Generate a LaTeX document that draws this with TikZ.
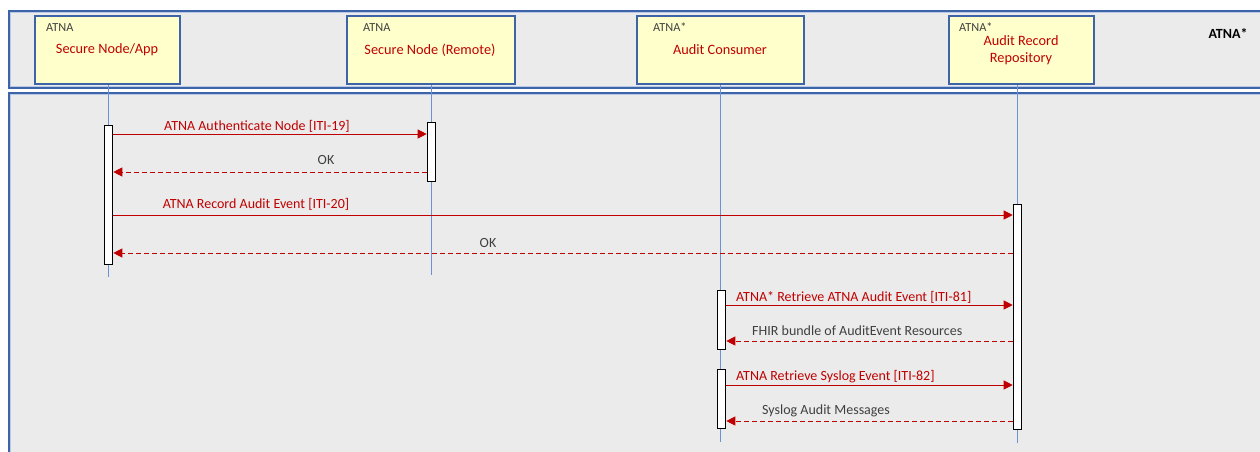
\documentclass[tikz,border=0pt]{standalone}
\usepackage{fontspec}
\setmainfont{Carlito}
\usetikzlibrary{arrows.meta}
\definecolor{frameblue}{HTML}{3E64A8}
\definecolor{framein}{HTML}{B8C8E6}
\definecolor{bgrey}{HTML}{EBEBEB}
\definecolor{boxyellow}{HTML}{FFFFCC}
\definecolor{lifeblue}{HTML}{6A92D4}
\definecolor{msgred}{HTML}{C00000}
\definecolor{txtgrey}{HTML}{404040}
\tikzset{
  frame/.style={draw=frameblue, line width=2pt, fill=bgrey},
  frameinner/.style={draw=framein, line width=0.8pt},
  actor/.style={draw=frameblue, line width=1.8pt, fill=boxyellow},
  lifeline/.style={draw=lifeblue, line width=0.7pt},
  actbar/.style={draw=black, line width=1.6pt, fill=white},
  msg/.style={draw=msgred, line width=0.8pt, -{Triangle[length=9pt,width=9pt]}},
  reply/.style={msg, dashed, dash pattern=on 5pt off 3pt},
  msglabel/.style={text=msgred, font=\fontsize{14}{16}\selectfont, inner sep=0pt},
  replylabel/.style={text=txtgrey, font=\fontsize{14}{16}\selectfont, inner sep=0pt},
  smalllabel/.style={text=txtgrey, font=\fontsize{12.3}{14}\selectfont, inner sep=0pt, anchor=north west},
  actortext/.style={text=msgred, font=\fontsize{14.3}{17}\selectfont, inner sep=0pt, align=center}
}
\begin{document}
\begin{tikzpicture}[x=1pt,y=-1pt]
\useasboundingbox (0,0) rectangle (1260,452);
\fill[white] (0,0) rectangle (1260,452);
% frames
\path[frame] (9,11) rectangle (1275,88);
\path[frameinner] (10.8,12.8) rectangle (1275,86.2);
\path[frame] (9,93) rectangle (1275,470);
\path[frameinner] (10.8,94.8) rectangle (1275,470);
% lifelines (behind)
\coordinate (l1top) at (108,84); \coordinate (l1bot) at (108,277);
\coordinate (l2top) at (431,84); \coordinate (l2bot) at (431,275);
\coordinate (l3top) at (720,84); \coordinate (l3bot) at (720,442);
\coordinate (l4top) at (1017,84); \coordinate (l4bot) at (1017,443);
\draw[lifeline] (l1top) -- (l1bot);
\draw[lifeline] (l2top) -- (l2bot);
\draw[lifeline] (l3top) -- (l3bot);
\draw[lifeline] (l4top) -- (l4bot);
% actor boxes
\path[actor] (35,16) rectangle (180,84);
\path[actor] (347,16) rectangle (515,84);
\path[actor] (637,16) rectangle (804,84);
\path[actor] (949,16) rectangle (1094,84);
\node[smalllabel] (s1) at (46,23) {ATNA};
\node[smalllabel] (s2) at (363,23) {ATNA};
\node[smalllabel] (s3) at (653,23) {ATNA*};
\node[smalllabel] (s4) at (959,23) {ATNA*};
\node[actortext] (a1) at (107,50) {Secure Node/App};
\node[actortext] (a2) at (430,50) {Secure Node (Remote)};
\node[actortext] (a3) at (720,50) {Audit Consumer};
\node[actortext] (a4) at (1021,50) {Audit Record\\Repository};
\node[font=\bfseries\fontsize{14}{16}\selectfont, inner sep=0pt] (atna) at (1228,33) {ATNA*};
% activation bars
\node[actbar, minimum width=8pt, minimum height=139pt, inner sep=0pt] (b1) at (108.5,195) {};
\node[actbar, minimum width=8pt, minimum height=59pt, inner sep=0pt] (b2) at (431.5,152) {};
\node[actbar, minimum width=8pt, minimum height=225pt, inner sep=0pt] (b4) at (1017.5,317) {};
\node[actbar, minimum width=8pt, minimum height=59pt, inner sep=0pt] (b3a) at (721.5,320) {};
\node[actbar, minimum width=8pt, minimum height=59pt, inner sep=0pt] (b3b) at (721.5,399) {};
% messages
\draw[msg] (b1.east |- 0,134) -- (b2.west |- 0,134);
\node[msglabel] (m1) at (257,126) {ATNA Authenticate Node [ITI-19]};
\draw[reply] (b2.west |- 0,172) -- (b1.east |- 0,172);
\node[replylabel] (m2) at (326,160) {OK};
\draw[msg] (b1.east |- 0,215) -- (b4.west |- 0,215);
\node[msglabel] (m3) at (256,204) {ATNA Record Audit Event [ITI-20]};
\draw[reply] (b4.west |- 0,253) -- (b1.east |- 0,253);
\node[replylabel] (m4) at (488,243) {OK};
\draw[msg] (b3a.east |- 0,305) -- (b4.west |- 0,305);
\node[msglabel, anchor=west] (m5) at (736,297) {ATNA* Retrieve ATNA Audit Event [ITI-81]};
\draw[reply] (b4.west |- 0,341) -- (b3a.east |- 0,341);
\node[replylabel, anchor=west] (m6) at (752,331) {FHIR bundle of AuditEvent Resources};
\draw[msg] (b3b.east |- 0,385) -- (b4.west |- 0,385);
\node[msglabel, anchor=west] (m7) at (736,377) {ATNA Retrieve Syslog Event [ITI-82]};
\draw[reply] (b4.west |- 0,421) -- (b3b.east |- 0,421);
\node[replylabel, anchor=west] (m8) at (762,411) {Syslog Audit Messages};
\end{tikzpicture}
\end{document}
